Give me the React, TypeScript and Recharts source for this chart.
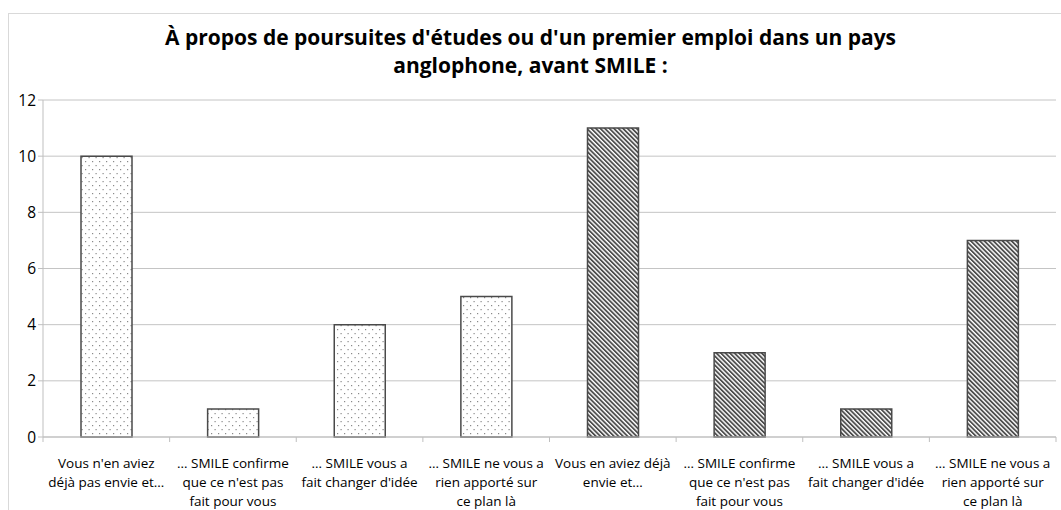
import { BarChart, Bar, XAxis, YAxis, CartesianGrid, Cell } from "recharts"

const categories = [
  "Vous n'en aviez\ndéjà pas envie et…",
  "… SMILE confirme\nque ce n'est pas\nfait pour vous",
  "… SMILE vous a\nfait changer d'idée",
  "… SMILE ne vous a\nrien apporté sur\nce plan là",
  "Vous en aviez déjà\nenvie et…",
  "… SMILE confirme\nque ce n'est pas\nfait pour vous",
  "… SMILE vous a\nfait changer d'idée",
  "… SMILE ne vous a\nrien apporté sur\nce plan là",
]
const counts = [10, 1, 4, 5, 11, 3, 1, 7]
const groups = ["pas", "pas", "pas", "pas", "envie", "envie", "envie", "envie"]
const yTicks = [0, 2, 4, 6, 8, 10, 12]

const data = categories.map((name, i) => ({ name, value: counts[i], group: groups[i] }))

const FONT = "'Open Sans', sans-serif"

function CategoryTick(props: any) {
  const { x, y, payload, width, index } = props
  const band = width / categories.length
  const lines = String(payload.value).split("\n")
  return (
    <g>
      <line x1={x - band / 2} y1={y - 8} x2={x - band / 2} y2={y - 3} stroke="#bfbfbf" />
      {index === categories.length - 1 && (
        <line x1={x + band / 2} y1={y - 8} x2={x + band / 2} y2={y - 3} stroke="#bfbfbf" />
      )}
      <text x={x} y={y + 23} textAnchor="middle" fontSize={13.5} fill="#000" fontFamily={FONT}>
        {lines.map((l, i) => (
          <tspan key={i} x={x} dy={i === 0 ? 0 : 19}>
            {l}
          </tspan>
        ))}
      </text>
    </g>
  )
}

export default function App() {
  return (
    <div style={{ position: "absolute", left: 0, top: 0, width: 1061, height: 510, overflow: "hidden", background: "#fff" }}>
      <div style={{ position: "absolute", left: 8, top: 13, width: 1200, height: 700, border: "1px solid #d9d9d9" }} />
      <div
        style={{
          position: "absolute",
          left: 0,
          top: 23,
          width: 1061,
          textAlign: "center",
          fontFamily: FONT,
          fontWeight: "bold",
          fontSize: 21,
          lineHeight: "28px",
          color: "#000",
        }}
      >
        À propos de poursuites d'études ou d'un premier emploi dans un pays
        <br />
        anglophone, avant SMILE :
      </div>
      <div style={{ position: "absolute", left: 0, top: 0 }}>
        <BarChart width={1061} height={510} data={data} margin={{ top: 100, right: 5, bottom: 3, left: 8 }}>
          <defs>
            <pattern id="dots" width="7" height="8" patternUnits="userSpaceOnUse">
              <rect width="7" height="8" fill="#fff" />
              <rect x="1" y="1" width="1.2" height="1.2" fill="#8a8a8a" />
              <rect x="4.5" y="5" width="1.2" height="1.2" fill="#8a8a8a" />
            </pattern>
            <pattern id="hatch" width="3.2" height="3.2" patternUnits="userSpaceOnUse" patternTransform="rotate(-45)">
              <rect width="3.2" height="3.2" fill="#fff" />
              <rect width="1.8" height="3.2" fill="#4e4e4e" />
            </pattern>
          </defs>
          <CartesianGrid vertical={false} stroke="#c4c4c4" strokeWidth={1} />
          <XAxis
            dataKey="name"
            interval={0}
            height={70}
            tickLine={false}
            axisLine={{ stroke: "#bfbfbf" }}
            tick={<CategoryTick />}
          />
          <YAxis
            domain={[0, 12]}
            ticks={yTicks}
            width={35}
            tickSize={5}
            tickLine={{ stroke: "#bfbfbf" }}
            axisLine={{ stroke: "#bfbfbf" }}
            tick={{ fontSize: 15.5, fill: "#000", fontFamily: FONT }}
          />
          <Bar dataKey="value" barSize={51} stroke="#4a4a4a" strokeWidth={1.5} isAnimationActive={false}>
            {data.map((d, i) => (
              <Cell key={i} fill={d.group === "pas" ? "url(#dots)" : "url(#hatch)"} />
            ))}
          </Bar>
        </BarChart>
      </div>
    </div>
  )
}
